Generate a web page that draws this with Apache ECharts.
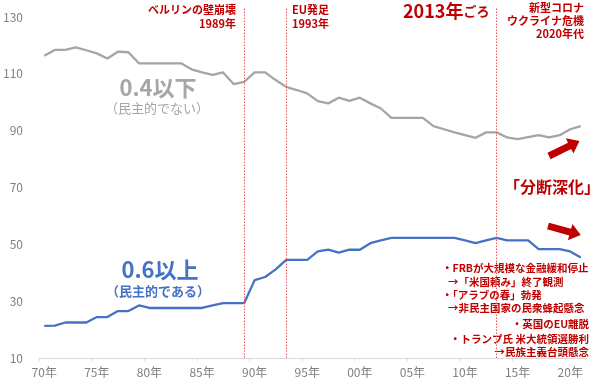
<!DOCTYPE html>
<html><head><meta charset="utf-8">
<script src="https://cdn.jsdelivr.net/npm/echarts@6/dist/echarts.min.js"></script>
<style>html,body{margin:0;padding:0;background:#fff}#c{width:600px;height:386px}</style>
</head><body><div id="c"></div>
<script>
const years = ['1970','1971','1972','1973','1974','1975','1976','1977','1978','1979',
'1980','1981','1982','1983','1984','1985','1986','1987','1988','1989',
'1990','1991','1992','1993','1994','1995','1996','1997','1998','1999',
'2000','2001','2002','2003','2004','2005','2006','2007','2008','2009',
'2010','2011','2012','2013','2014','2015','2016','2017','2018','2019',
'2020','2021'];
const below04 = [116.4,118.4,118.4,119.3,118.3,117.2,115.4,117.8,117.6,113.7,
113.7,113.7,113.7,113.7,111.6,110.5,109.6,110.5,106.4,107.2,
110.5,110.5,107.8,105.4,104.3,103.1,100.4,99.6,101.6,100.5,
101.6,99.6,97.8,94.5,94.5,94.5,94.5,91.6,90.5,89.4,
88.4,87.5,89.4,89.4,87.6,87.0,87.7,88.4,87.6,88.4,
90.5,91.6];
const above06 = [21.3,21.4,22.5,22.5,22.5,24.4,24.4,26.5,26.5,28.5,
27.6,27.6,27.6,27.6,27.6,27.6,28.5,29.3,29.3,29.3,
37.4,38.5,41.2,44.5,44.5,44.5,47.5,48.1,47.1,48.1,
48.1,50.4,51.4,52.3,52.3,52.3,52.3,52.3,52.3,52.3,
51.4,50.4,51.4,52.3,51.4,51.4,51.4,48.3,48.3,48.3,
47.5,45.4];
const eventYears = ['1989','1993','2013'];
const yTicks = {min:10, max:130, interval:20};

const FONT = '"Noto Sans CJK JP", "Noto Sans", sans-serif';
const RED = '#c00000';
const VLINE = '#ee5555';
const chart = echarts.init(document.getElementById('c'));

function arrow(x, y, rot, L) {
  return {type:'polygon', x:x, y:y, rotation:rot,
    shape:{points:[[0,-3.5],[L-11,-3.5],[L-11,-8.5],[L,0],[L-11,8.5],[L-11,3.5],[0,3.5]]},
    style:{fill:RED}};
}
function txt(x, y, text, size, color, align, weight) {
  return {type:'text', x:x, y:y, style:{text:text, fill:color, align:align||'left',
    verticalAlign:'middle', font:(weight||'bold')+' '+size+'px '+FONT}};
}

chart.setOption({
  animation:false,
  backgroundColor:'#ffffff',
  grid:[{left:39, right:14, top:17, bottom:28},
        {left:39, right:14, top:8, bottom:28}],
  xAxis:[{type:'category', data:years, boundaryGap:true, gridIndex:0,
    axisLine:{lineStyle:{color:'#d9d9d9', width:1}},
    axisTick:{show:true, interval:4, length:3, lineStyle:{color:'#d9d9d9'}},
    axisLabel:{interval:4, color:'#808080', fontSize:12, fontFamily:FONT, margin:8,
      formatter:function(v){return v.slice(2)+'年';}}},
    {type:'category', data:years, boundaryGap:true, gridIndex:1, show:false}],
  yAxis:[{type:'value', min:yTicks.min, max:yTicks.max, interval:yTicks.interval, gridIndex:0,
    axisLine:{show:false}, axisTick:{show:false}, splitLine:{show:false},
    axisLabel:{color:'#808080', fontSize:12, fontFamily:FONT, margin:16}},
    {type:'value', min:0, max:1, gridIndex:1, show:false, splitLine:{show:false}}],
  series:[
    {type:'line', xAxisIndex:1, yAxisIndex:1, data:[], symbol:'none', color:VLINE,
      itemStyle:{color:VLINE}, lineStyle:{color:VLINE},
      markLine:{silent:true, symbol:'none', label:{show:false},
        itemStyle:{color:VLINE},
        lineStyle:{color:VLINE, type:[1.5,1.5], width:1, opacity:1},
        emphasis:{disabled:true},
        data:eventYears.map(y=>({xAxis:years.indexOf(y), lineStyle:{color:VLINE, type:[1.5,1.5], width:1}}))}},
    {type:'line', data:below04, symbol:'none', lineStyle:{color:'#a5a5a5', width:2.3}},
    {type:'line', data:above06, symbol:'none', lineStyle:{color:'#4472c4', width:2.3}}
  ],
  graphic:[
    txt(236,10,'ベルリンの壁崩壊',11,RED,'right'),
    txt(236,24,'1989年',11,RED,'right'),
    txt(292,10,'EU発足',11,RED,'left'),
    txt(292,24,'1993年',11,RED,'left'),
    {type:'text', x:403, y:11, style:{text:'{a|2013年}{b|ごろ}', align:'left', verticalAlign:'middle',
      rich:{a:{font:'bold 18px '+FONT, fill:RED}, b:{font:'bold 13px '+FONT, fill:RED}}}},
    txt(584,8,'新型コロナ',11,RED,'right'),
    txt(584,21,'ウクライナ危機',11,RED,'right'),
    txt(584,34,'2020年代',11,RED,'right'),
    txt(158,88,'0.4以下',22,'#a6a6a6','center'),
    txt(157,108,'（民主的でない）',13,'#a6a6a6','center','normal'),
    txt(160,270,'0.6以上',22,'#4472c4','center'),
    txt(158,291,'（民主的である）',13,'#4472c4','center'),
    txt(552,187,'「分断深化」',16,RED,'center'),
    arrow(549,156,0.46,34),
    arrow(548,226,-0.27,34),
    txt(442,268,'・FRBが大規模な金融緩和停止',10.5,RED,'left'),
    txt(448,282,'→「米国頼み」終了観測',10.5,RED,'left'),
    txt(442,295,'・「アラブの春」勃発',10.5,RED,'left'),
    txt(448,308,'→非民主国家の民衆蜂起懸念',10.5,RED,'left'),
    txt(589,324,'・英国のEU離脱',10.5,RED,'right'),
    txt(589,339,'・トランプ氏 米大統領選勝利',10.5,RED,'right'),
    txt(589,352,'→民族主義台頭懸念',10.5,RED,'right')
  ]
});
</script></body></html>
